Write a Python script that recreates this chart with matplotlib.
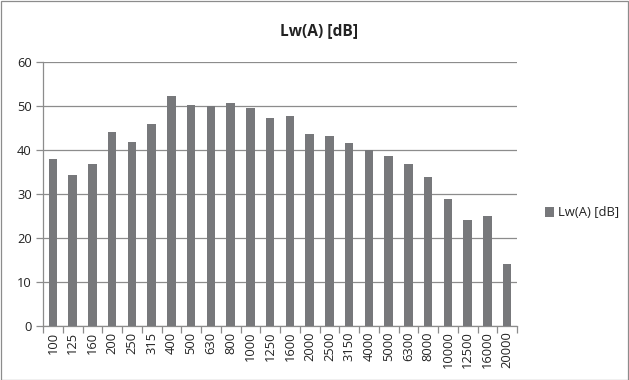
import matplotlib
matplotlib.use("Agg")
import matplotlib.pyplot as plt
from matplotlib.patches import Rectangle
import numpy as np

categories = ["100", "125", "160", "200", "250", "315", "400", "500", "630", "800",
              "1000", "1250", "1600", "2000", "2500", "3150", "4000", "5000", "6300",
              "8000", "10000", "12500", "16000", "20000"]
values = [38.0, 34.4, 36.9, 44.1, 41.8, 46.0, 52.2, 50.3, 50.0, 50.7,
          49.5, 47.3, 47.8, 43.7, 43.2, 41.5, 40.1, 38.6, 36.9,
          33.8, 28.9, 24.2, 25.1, 14.2]
series_name = "Lw(A) [dB]"

plt.rcParams['font.family'] = ['Open Sans', 'DejaVu Sans']

fig = plt.figure(figsize=(6.29, 3.80), dpi=100)
ax = fig.add_axes([43/629, 1-326/380, (517-43)/629, (326-62)/380])

x = np.arange(len(categories))
bar_color = "#77787b"
ax.bar(x, values, width=0.42, color=bar_color, label=series_name, zorder=3)

ax.set_xlim(-0.5, len(categories) - 0.5)
ax.set_ylim(0, 60)
ax.set_yticks(range(0, 61, 10))
ax.set_yticklabels([str(v) for v in range(0, 61, 10)], fontsize=9.3, color="#222222")
ax.yaxis.grid(True, color="#8c8c8c", linewidth=0.9, zorder=0)
ax.set_axisbelow(True)

ax.set_xticks(x)
ax.set_xticklabels(categories, rotation=90, fontsize=9.3, color="#222222")
ax.tick_params(axis='x', length=0, pad=4)
ax.set_xticks(np.arange(-0.5, len(categories)), minor=True)
ax.tick_params(axis='x', which='minor', length=5, color="#8c8c8c", width=0.9)
ax.tick_params(axis='y', length=5, color="#8c8c8c", width=0.9, pad=3)

for s in ["top", "right"]:
    ax.spines[s].set_visible(False)
for s in ["left", "bottom"]:
    ax.spines[s].set_color("#8c8c8c")
    ax.spines[s].set_linewidth(0.9)

fig.text(319/629, 1-31/380, series_name, ha="center", va="center",
         fontsize=11.2, fontweight="bold", color="#222222")

leg = ax.legend(loc="center left", bbox_to_anchor=(533/629, 1-213/380),
                bbox_transform=fig.transFigure, frameon=False, fontsize=9.4,
                handlelength=0.7, handleheight=0.7, handletextpad=0.3)
for t in leg.get_texts():
    t.set_color("#222222")

fig.patches.append(Rectangle((0.5/629, 0.5/380), 1-1.5/629, 1-1.5/380,
                             transform=fig.transFigure, fill=False,
                             edgecolor="#8c8c8c", linewidth=0.9))

fig.savefig("out.png", dpi=100, facecolor="white")
